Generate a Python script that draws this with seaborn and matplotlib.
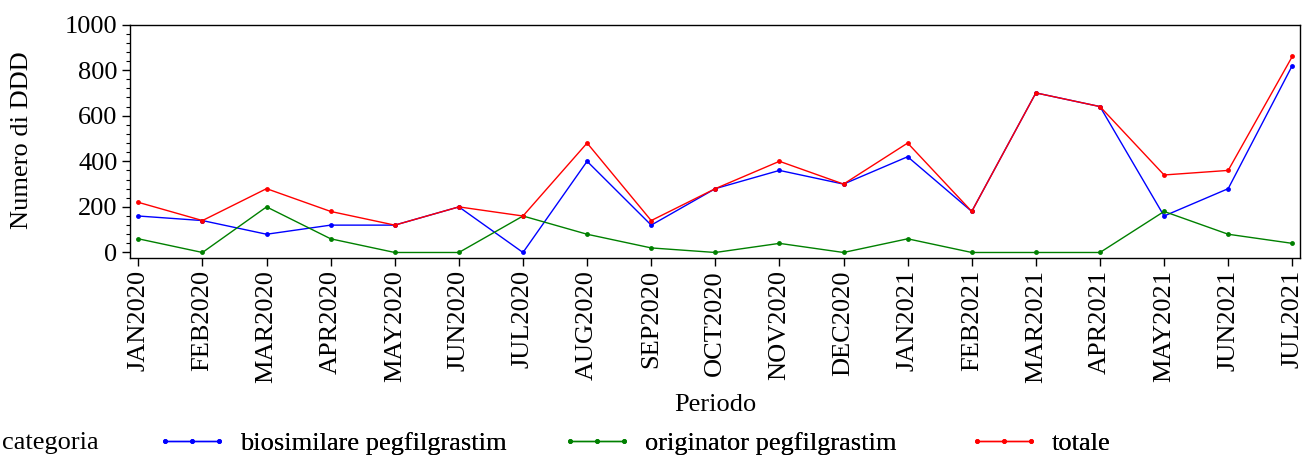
import numpy as np
import pandas as pd
import matplotlib
matplotlib.use("Agg")
import matplotlib.pyplot as plt
from matplotlib.ticker import MultipleLocator, AutoMinorLocator
from matplotlib.lines import Line2D
import seaborn as sns

# Data
periodi = ["JAN2020", "FEB2020", "MAR2020", "APR2020", "MAY2020", "JUN2020",
           "JUL2020", "AUG2020", "SEP2020", "OCT2020", "NOV2020", "DEC2020",
           "JAN2021", "FEB2021", "MAR2021", "APR2021", "MAY2021", "JUN2021",
           "JUL2021"]
biosimilare = [160, 140, 80, 120, 120, 200, 0, 400, 120, 280, 360, 300,
               420, 180, 700, 640, 160, 280, 820]
originator = [60, 0, 200, 60, 0, 0, 160, 80, 20, 0, 40, 0,
              60, 0, 0, 0, 180, 80, 40]
totale = [220, 140, 280, 180, 120, 200, 160, 480, 140, 280, 400, 300,
          480, 180, 700, 640, 340, 360, 860]
categorie = ["biosimilare pegfilgrastim", "originator pegfilgrastim", "totale"]
colori = ["#0000ff", "#008000", "#ff0000"]

sns.set_style("white")
plt.rcParams["font.family"] = ["Liberation Serif", "DejaVu Serif"]
plt.rcParams.update({"text.color": "black", "axes.labelcolor": "black",
                     "xtick.color": "black", "ytick.color": "black"})

df = pd.concat([
    pd.DataFrame({"Periodo": periodi, "DDD": vals, "categoria": cat})
    for cat, vals in zip(categorie, [biosimilare, originator, totale])
])

fig = plt.figure(figsize=(13.05, 4.55), dpi=100)
ax = fig.add_axes([130 / 1305, 1 - 257.5 / 455, 1170 / 1305, 233 / 455])

sns.lineplot(data=df, x="Periodo", y="DDD", hue="categoria",
             palette=dict(zip(categorie, colori)), marker="o", markersize=3.5,
             markeredgewidth=0, linewidth=1.0, sort=False, legend=False, ax=ax)

ax.set_xlim(-0.13, len(periodi) - 1 + 0.12)
ax.set_ylim(-22, 1000)
ax.yaxis.set_major_locator(MultipleLocator(200))
ax.yaxis.set_minor_locator(AutoMinorLocator(5))
ax.set_xticks(range(len(periodi)))
ax.set_xticklabels(periodi, rotation=90)
ax.tick_params(axis="both", which="major", direction="out", length=6,
               width=1, color="black", labelcolor="black", labelsize=19,
               pad=3, left=True, bottom=True)
ax.tick_params(axis="y", which="minor", direction="out", length=3, width=0.8,
               color="black", left=True)
for s in ax.spines.values():
    s.set_color("black")
    s.set_linewidth(1.0)
ax.set_xlabel("")
ax.set_ylabel("")
fig.text(22 / 1305, 1 - 140 / 455, "Numero di DDD", rotation=90,
         ha="center", va="center", fontsize=19, color="black")
fig.text(715 / 1305, 1 - 405 / 455, "Periodo", ha="center", va="center",
         fontsize=19, color="black")

# legend, one entry at a time like the SAS layout
fig.text(2 / 1305, 1 - 443 / 455, "categoria", ha="left", va="center",
         fontsize=19, color="black")
pos = [157, 562, 969]
for cat, col, x in zip(categorie, colori, pos):
    h = Line2D([], [], color=col, linewidth=1.0, marker="o", markersize=3.5,
               markeredgewidth=0)
    leg = fig.legend([h], [cat], loc="center left",
                     bbox_to_anchor=(x / 1305, 1 - 443 / 455), frameon=False,
                     fontsize=19, handlelength=2.65, handletextpad=0.5,
                     borderaxespad=0, borderpad=0, numpoints=3,
                     labelcolor="black")
    fig.add_artist(leg)

fig.savefig("out.png", dpi=100)
